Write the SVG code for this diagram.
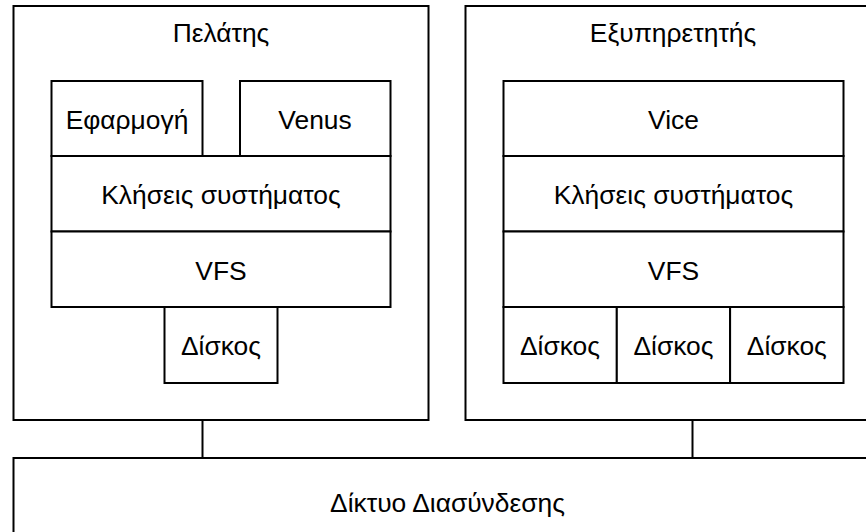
<svg xmlns="http://www.w3.org/2000/svg" width="866" height="532" viewBox="0 0 866 532">
<style>
rect{fill:#fff;stroke:#000;stroke-width:2}
line{stroke:#000;stroke-width:2}
text{font-family:"Liberation Sans",Arial,sans-serif;font-size:26.4px;fill:#000;text-anchor:middle}
</style>
<rect x="0" y="0" width="866" height="532" style="stroke:none"/>
<g id="connectors">
<line x1="202.5" y1="420" x2="202.5" y2="458"/>
<line x1="692.5" y1="420" x2="692.5" y2="458"/>
</g>
<g id="client">
<rect x="13.5" y="6" width="415" height="414"/>
<text x="221" y="41.5">Πελάτης</text>
</g>
<g id="app"><rect x="51.5" y="81" width="151" height="75"/><text x="127" y="128.5">Εφαρμογή</text></g>
<g id="venus"><rect x="240" y="81" width="150.5" height="75"/><text x="315" y="128.5">Venus</text></g>
<g id="syscalls-client"><rect x="51.5" y="156" width="339" height="75.5"/><text x="221" y="203.5">Κλήσεις συστήματος</text></g>
<g id="vfs-client"><rect x="51.5" y="231.5" width="339" height="75.5"/><text x="221" y="279.5">VFS</text></g>
<g id="disk-client"><rect x="164.5" y="307" width="113" height="76"/><text x="221" y="355">Δίσκος</text></g>
<g id="server">
<rect x="465.5" y="6" width="415" height="414"/>
<text x="673" y="41.5">Εξυπηρετητής</text>
</g>
<g id="vice"><rect x="503.5" y="81" width="340" height="75"/><text x="673.5" y="128.5">Vice</text></g>
<g id="syscalls-server"><rect x="503.5" y="156" width="340" height="75.5"/><text x="673.5" y="203.5">Κλήσεις συστήματος</text></g>
<g id="vfs-server"><rect x="503.5" y="231.5" width="340" height="75.5"/><text x="673.5" y="279.5">VFS</text></g>
<g id="disk1"><rect x="503.5" y="307" width="113.3" height="76"/><text x="560" y="355">Δίσκος</text></g>
<g id="disk2"><rect x="616.8" y="307" width="113.3" height="76"/><text x="673.5" y="355">Δίσκος</text></g>
<g id="disk3"><rect x="730.1" y="307" width="113.4" height="76"/><text x="786.8" y="355">Δίσκος</text></g>
<g id="network">
<rect x="13.5" y="458" width="868" height="100"/>
<text x="447.5" y="512">Δίκτυο Διασύνδεσης</text>
</g>
</svg>
